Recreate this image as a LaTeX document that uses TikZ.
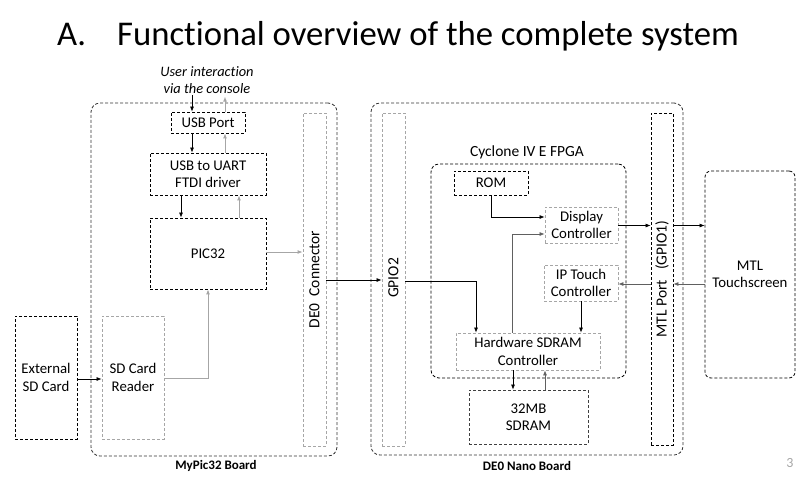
\documentclass[tikz,border=0pt]{standalone}
\usepackage{fontspec}
\setmainfont{Carlito}[Ligatures=NoCommon]
\usetikzlibrary{arrows.meta}
\definecolor{lgray}{HTML}{A6A6A6}
\definecolor{mgray}{HTML}{606060}
\tikzset{
  dsh/.style={dash pattern=on 3pt off 2pt, line width=0.8pt},
  bbox/.style={draw=black, dsh, inner sep=0pt, align=center, font=\fontsize{14.8}{17.5}\selectfont},
  gbox/.style={draw=lgray, dsh, inner sep=0pt, align=center, font=\fontsize{14.8}{17.5}\selectfont},
  board/.style={draw=black!80, dsh, rounded corners=9pt, inner sep=0pt},
  arrk/.style={draw=black, line width=0.7pt, -{Latex[length=5pt,width=4pt]}},
  arrg/.style={draw=lgray, line width=0.9pt, -{Latex[length=5pt,width=4pt]}},
  arrm/.style={draw=mgray, line width=0.7pt, -{Latex[length=5pt,width=4pt]}},
  vtext/.style={rotate=90, font=\fontsize{15.5}{18}\selectfont},
  blabel/.style={font=\fontsize{13}{15}\selectfont\bfseries},
}
\begin{document}
\begin{tikzpicture}[x=1pt,y=-1pt]
\useasboundingbox (0,0) rectangle (800,480);
% title
\node[anchor=base west, inner sep=0pt, font=\fontsize{34.7}{38}\selectfont] (titleA) at (57,45) {A.};
\node[anchor=base west, inner sep=0pt, font=\fontsize{34.7}{38}\selectfont] (title) at (117,45) {Functional overview of the complete system};
% user text
\node[align=center, inner sep=0pt, font=\fontsize{14.4}{16.5}\selectfont\itshape] (user) at (207,80) {User interaction\\via the console};
% boards
\node[board, minimum width=246pt, minimum height=353pt] (b1) at (214,279.5) {};
\node[board, minimum width=312pt, minimum height=352pt] (b2) at (527,279) {};
\node[blabel] (b1l) at (216,466) {MyPic32 Board};
\node[blabel] (b2l) at (527,466) {DE0 Nano Board};
% left board
\node[bbox, minimum width=74pt, minimum height=21pt] (usb) at (208,122.5) {USB Port};
\node[bbox, minimum width=116pt, minimum height=42pt] (ftdi) at (208,174) {USB to UART\\FTDI driver};
\node[bbox, minimum width=116pt, minimum height=71pt] (pic) at (208,253.5) {PIC32};
\node[gbox, minimum width=23pt, minimum height=333pt] (de0c) at (314.5,279.5) {};
\node[vtext] (de0ct) at (de0c) {DE0~~Connector};
\node[bbox, minimum width=62pt, minimum height=123pt] (extsd) at (46,377.5) {External\\SD Card};
\node[gbox, minimum width=62pt, minimum height=123pt] (sdr) at (133,377.5) {SD Card\\Reader};
% right board
\node[gbox, minimum width=23pt, minimum height=333pt] (gpio2) at (393.5,279.5) {};
\node[vtext] (gpio2t) at (393.5,278) {GPIO2};
\node[board, draw=black, rounded corners=8pt, minimum width=195pt, minimum height=214pt] (fpga) at (528.5,271) {};
\node[font=\fontsize{15.5}{18}\selectfont] (fpgal) at (527,152) {Cyclone IV E FPGA};
\node[bbox, minimum width=74pt, minimum height=24pt] (rom) at (491,183) {ROM};
\node[gbox, minimum width=73pt, minimum height=36pt] (disp) at (581.5,225) {Display\\Controller};
\node[gbox, minimum width=74pt, minimum height=36pt] (ipt) at (581,283) {IP Touch\\Controller};
\node[gbox, minimum width=144pt, minimum height=37pt] (hws) at (528,351.5) {Hardware SDRAM\\Controller};
\node[bbox, draw=black!75, minimum width=119pt, minimum height=54pt] (sdram) at (528.5,417) {32MB\\SDRAM};
\node[bbox, minimum width=22pt, minimum height=332pt] (mtlp) at (662,279) {};
\node[vtext] (mtlpt) at (mtlp) {MTL Port~~~(GPIO1)};
\node[bbox, rounded corners=6pt, minimum width=90pt, minimum height=207pt] (mtl) at (750,274.5) {MTL\\Touchscreen};
\node[text=lgray, font=\fontsize{14}{16}\selectfont] (pnum) at (790,463) {3};
% connectors left
\draw[arrk] (192,0 |- user.south) ++(0,2) -- (192,0 |- usb.north);
\draw[arrg] (225,0 |- usb.north) -- ++(0,-15);
\draw[arrk] (192,0 |- usb.south) -- (192,0 |- ftdi.north);
\draw[arrg] (225,0 |- ftdi.north) -- (225,0 |- usb.south);
\draw[arrk] (181,0 |- ftdi.south) -- (181,0 |- pic.north);
\draw[arrg] (239,0 |- pic.north) -- (239,0 |- ftdi.south);
\draw[arrg] (pic.east |- 0,252) -- (de0c.west |- 0,252);
\draw[arrk] (de0c.east |- 0,280) -- (gpio2.west |- 0,280);
\draw[arrk] (extsd.east |- 0,379) -- (sdr.west |- 0,379);
\draw[arrg] (sdr.east |- 0,378) -| (208,0 |- pic.south);
% connectors right
\draw[arrk] (491,0 |- rom.south) |- (disp.west |- 0,217);
\draw[arrm] (512,0 |- hws.north) |- (disp.west |- 0,234);
\draw[arrk] (gpio2.east |- 0,281) -| (476,0 |- hws.north);
\draw[arrk] (581,0 |- ipt.south) -- (581,0 |- hws.north);
\draw[arrk] (disp.east |- 0,225.5) -- (mtlp.west |- 0,225.5);
\draw[arrk] (mtlp.east |- 0,225.5) -- (mtl.west |- 0,225.5);
\draw[arrm] (mtl.west |- 0,284) -- (mtlp.east |- 0,284);
\draw[arrm] (mtlp.west |- 0,284) -- (ipt.east |- 0,284);
\draw[arrk] (513,0 |- hws.south) -- (513,0 |- sdram.north);
\draw[arrm] (545,0 |- sdram.north) -- (545,0 |- hws.south);
\end{tikzpicture}
\end{document}
